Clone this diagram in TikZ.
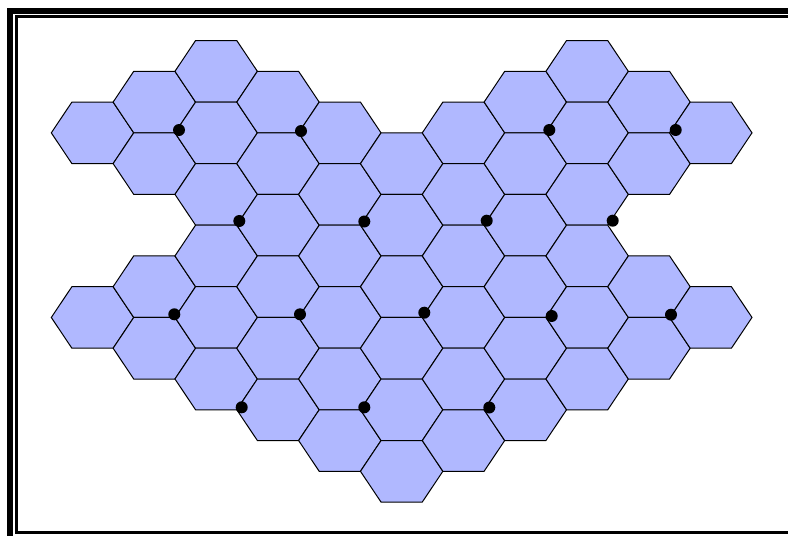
\documentclass[tikz,border=0pt]{standalone}
\definecolor{hexfill}{RGB}{176,184,255}
\tikzset{
  hexcell/.style={fill=hexfill, draw=black, line width=1pt, line join=miter},
  spot/.style={fill=black, draw=none},
  outerframe/.style={draw=black, line width=6pt},
  innerframe/.style={draw=black, line width=3pt}
}
\begin{document}
\begin{tikzpicture}[x=1pt,y=-1pt]
\useasboundingbox (0,0) rectangle (788,536);
\clip (0,0) rectangle (788,536);
\fill[white] (0,0) rectangle (788,536);
% frame
\draw[outerframe] (10.3,11) rectangle (820,560);
\draw[innerframe] (16.5,16.8) rectangle (810,532.8);
% hexagons
\foreach \c/\k in {0/2,0/8,
  1/1,1/3,1/7,1/9,
  2/0,2/2,2/4,2/6,2/8,2/10,
  3/1,3/3,3/5,3/7,3/9,3/11,
  4/2,4/4,4/6,4/8,4/10,4/12,
  5/3,5/5,5/7,5/9,5/11,5/13,
  6/2,6/4,6/6,6/8,6/10,6/12,
  7/1,7/3,7/5,7/7,7/9,7/11,
  8/0,8/2,8/4,8/6,8/8,8/10,
  9/1,9/3,9/7,9/9,
  10/2,10/8}{
  \pgfmathsetmacro\hx{92.5+61.83*\c}
  \pgfmathsetmacro\hy{71.3+30.77*\k}
  \draw[hexcell, shift={(\hx,\hy)}] (-41.2,0) -- (-20.6,-30.77) -- (20.6,-30.77)
     -- (41.2,0) -- (20.6,30.77) -- (-20.6,30.77) -- cycle;
}
% dots
\foreach \px/\py in {179/130, 301/131, 549.3/130, 675.7/130,
  239.3/221, 364.3/221.5, 486.7/220.7, 612.7/220.7,
  174.3/314.3, 300/314.3, 424.3/312.7, 551.7/316, 671/314.7,
  241.7/407.3, 364.3/407.3, 489.3/407.5}{
  \fill[spot] (\px,\py) circle (6);
}
\end{tikzpicture}
\end{document}
